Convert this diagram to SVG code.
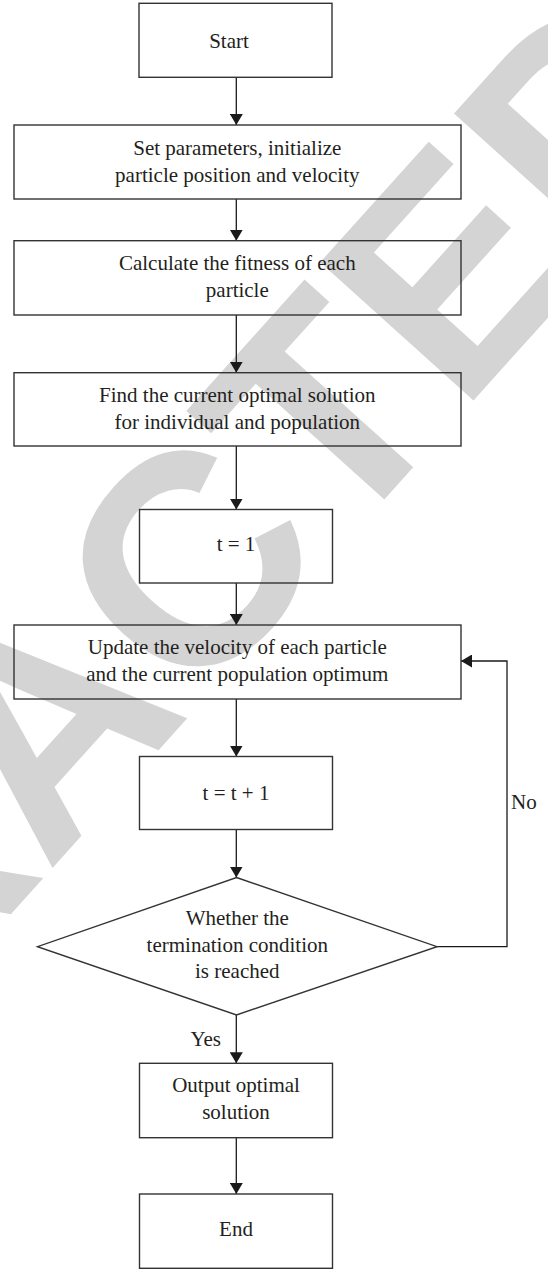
<svg xmlns="http://www.w3.org/2000/svg" width="548" height="1269" viewBox="0 0 548 1269">
  <style>
    .box { fill: none; stroke: #333333; stroke-width: 1.4; }
    .lbl { font-family: "Liberation Serif", "Times New Roman", serif; font-size: 21px; fill: #231f20; text-anchor: middle; }
    .edge { fill: none; stroke: #1a1a1a; stroke-width: 1.3; }
    .wm { font-family: "Liberation Sans", Arial, sans-serif; font-weight: bold; font-size: 300px; fill: #d4d4d4; text-anchor: middle; }
  </style>
  <defs>
    <marker id="arrow" viewBox="0 0 11 13" refX="11" refY="6.5" markerWidth="11" markerHeight="13" markerUnits="userSpaceOnUse" orient="auto">
      <path d="M0,0 L11,6.5 L0,13 z" fill="#1a1a1a"/>
    </marker>
  </defs>
  <rect width="548" height="1269" fill="#ffffff"/>
  <g id="watermark">
    <text class="wm" transform="translate(120,793) rotate(-48)" x="0" y="0">RETRACTED</text>
  </g>
  <g id="connectors">
    <line class="edge" x1="236.3" y1="77.3" x2="236.3" y2="125" marker-end="url(#arrow)"/>
    <line class="edge" x1="236.3" y1="199" x2="236.3" y2="240.7" marker-end="url(#arrow)"/>
    <line class="edge" x1="236.3" y1="315" x2="236.3" y2="372.7" marker-end="url(#arrow)"/>
    <line class="edge" x1="236.3" y1="446" x2="236.3" y2="509.5" marker-end="url(#arrow)"/>
    <line class="edge" x1="236.3" y1="583" x2="236.3" y2="625" marker-end="url(#arrow)"/>
    <line class="edge" x1="236.3" y1="699" x2="236.3" y2="756.5" marker-end="url(#arrow)"/>
    <line class="edge" x1="236.3" y1="829.5" x2="236.3" y2="877.5" marker-end="url(#arrow)"/>
    <line class="edge" x1="236.3" y1="1015" x2="236.3" y2="1063.3" marker-end="url(#arrow)"/>
    <line class="edge" x1="236.3" y1="1137.7" x2="236.3" y2="1194" marker-end="url(#arrow)"/>
    <polyline class="edge" points="437,946.7 507,946.7 507,661 461,661" marker-end="url(#arrow)"/>
    <text class="lbl" x="511" y="809" style="text-anchor:start">No</text>
    <text class="lbl" x="221" y="1045.5" style="text-anchor:end">Yes</text>
  </g>
  <g id="start">
    <rect class="box" x="139" y="3.3" width="193" height="74"/>
    <text class="lbl" x="229" y="48.3">Start</text>
  </g>
  <g id="init">
    <rect class="box" x="14" y="125" width="447" height="74"/>
    <text class="lbl" x="237.3" y="154.5">Set parameters, initialize</text>
    <text class="lbl" x="237.3" y="181.5">particle position and velocity</text>
  </g>
  <g id="fitness">
    <rect class="box" x="14" y="240.7" width="447" height="74.3"/>
    <text class="lbl" x="237.3" y="270">Calculate the fitness of each</text>
    <text class="lbl" x="237.3" y="296.5">particle</text>
  </g>
  <g id="optimal">
    <rect class="box" x="14" y="372.7" width="447" height="73.3"/>
    <text class="lbl" x="237.3" y="401.7">Find the current optimal solution</text>
    <text class="lbl" x="237.3" y="428.5">for individual and population</text>
  </g>
  <g id="t1">
    <rect class="box" x="139.5" y="509.5" width="193" height="73.5"/>
    <text class="lbl" x="236" y="551">t = 1</text>
  </g>
  <g id="update">
    <rect class="box" x="14" y="625" width="447" height="74"/>
    <text class="lbl" x="237.3" y="654">Update the velocity of each particle</text>
    <text class="lbl" x="237.3" y="680.5">and the current population optimum</text>
  </g>
  <g id="tinc">
    <rect class="box" x="139.5" y="756.5" width="193" height="73"/>
    <text class="lbl" x="236" y="800">t = t + 1</text>
  </g>
  <g id="decision">
    <polygon class="box" points="236.5,877.5 437,946.7 236.5,1015 37.5,946.7"/>
    <text class="lbl" x="237.3" y="925">Whether the</text>
    <text class="lbl" x="237.3" y="951.7">termination condition</text>
    <text class="lbl" x="237.3" y="978.3">is reached</text>
  </g>
  <g id="output">
    <rect class="box" x="139.5" y="1063.3" width="193" height="74.4"/>
    <text class="lbl" x="236" y="1092">Output optimal</text>
    <text class="lbl" x="236" y="1119">solution</text>
  </g>
  <g id="end">
    <rect class="box" x="139.5" y="1194" width="193" height="74.3"/>
    <text class="lbl" x="236" y="1236">End</text>
  </g>
</svg>
